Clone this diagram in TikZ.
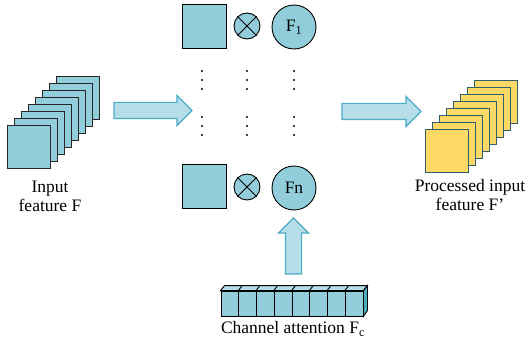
\documentclass[tikz,border=0pt]{standalone}
\usepackage{fontspec}
\setmainfont{Liberation Serif}
\newfontfamily\labelfont{Liberation Serif}
\usetikzlibrary{shapes, arrows, calc}
\definecolor{mapblue}{HTML}{92CDDC}
\definecolor{maptop}{HTML}{B2DCE7}
\definecolor{mapside}{HTML}{4FAAC0}
\definecolor{arrowfill}{HTML}{B7DEE8}
\definecolor{arrowline}{HTML}{4BACC6}
\definecolor{outyellow}{HTML}{FFD966}
\definecolor{outline}{HTML}{2F5F6B}
\tikzset{
  inmap/.style={draw=black!85, fill=mapblue, minimum size=43pt, inner sep=0pt, line width=0.9pt},
  outmap/.style={draw=outline, fill=outyellow, minimum size=43pt, inner sep=0pt, line width=0.9pt},
  midmap/.style={draw=black, fill=mapblue, minimum size=44pt, inner sep=0pt, line width=0.9pt},
  mult/.style={circle, draw=black, fill=mapblue, minimum size=26pt, inner sep=0pt, line width=0.9pt},
  fcirc/.style={circle, draw=black, fill=mapblue, minimum size=44pt, inner sep=0pt, line width=0.9pt},
  bigarrow/.style={single arrow, draw=arrowline, fill=arrowfill, line width=1.2pt,
    inner xsep=0pt, inner ysep=7.5pt, single arrow head extend=7pt},
  cell/.style={draw=black, fill=mapblue, minimum width=17.75pt, minimum height=25pt, inner sep=0pt, line width=0.9pt}
}
\begin{document}
\begin{tikzpicture}[x=1pt, y=-1pt, font=\labelfont\fontsize{17.5}{19}\selectfont]
  \useasboundingbox (0,0) rectangle (531,345);

  % input feature stack
  \foreach \i in {7,6,...,0}
    \node[inmap] (in\i) at ({28.5+7*\i},{146.5-7*\i}) {};
  \node[align=center] (inlabel) at (50,196) {Input\\feature F};

  % processed feature stack
  \foreach \i in {7,6,...,0}
    \node[outmap] (out\i) at ({446.5+7.07*\i},{150.5-7*\i}) {};
  \node[align=center] (outlabel) at (470,195) {Processed input\\feature F’};

  % channel weighting
  \node[midmap] (sqa) at (204,26.5) {};
  \node[mult] (mula) at (247,26) {};
  \node[fcirc] (fa) at (294,27) {F\textsubscript{1}};
  \node[midmap] (sqn) at (204,186.5) {};
  \node[mult] (muln) at (247,187) {};
  \node[fcirc] (fn) at (294,188) {Fn};
  \foreach \m in {mula,muln} {
    \draw[line width=0.9pt] (\m.45) -- (\m.225);
    \draw[line width=0.9pt] (\m.135) -- (\m.-45);
  }
  \foreach \x in {202,247,294}
    \foreach \y in {71,80,89,117,126,135}
      \fill (\x,\y) circle (1.1pt);

  % block arrows
  \node[bigarrow, minimum height=78pt] (arrin) at (149,110.5) {};
  \node[bigarrow, minimum height=79pt] (arrout) at (377.5,111.5) {};
  \node[bigarrow, minimum height=56pt, rotate=90] (arrup) at (293.5,250) {};

  % channel attention vector
  \foreach \i in {1,...,8}
    \node[cell] (c\i) at ({221+17.75*(\i-0.5)},303.5) {};
  \foreach \i in {1,...,8}
    \draw[fill=maptop, line width=0.9pt] (c\i.north west) -- ++(4,-5)
      -- ($(c\i.north east)+(4,-5)$) -- (c\i.north east) -- cycle;
  \draw[fill=mapside, line width=0.9pt] (c8.north east) -- ++(4,-5) -- ++(0,25)
    -- (c8.south east) -- cycle;
  \node (calabel) at (293,329) {Channel attention F\textsubscript{c}};
\end{tikzpicture}
\end{document}
